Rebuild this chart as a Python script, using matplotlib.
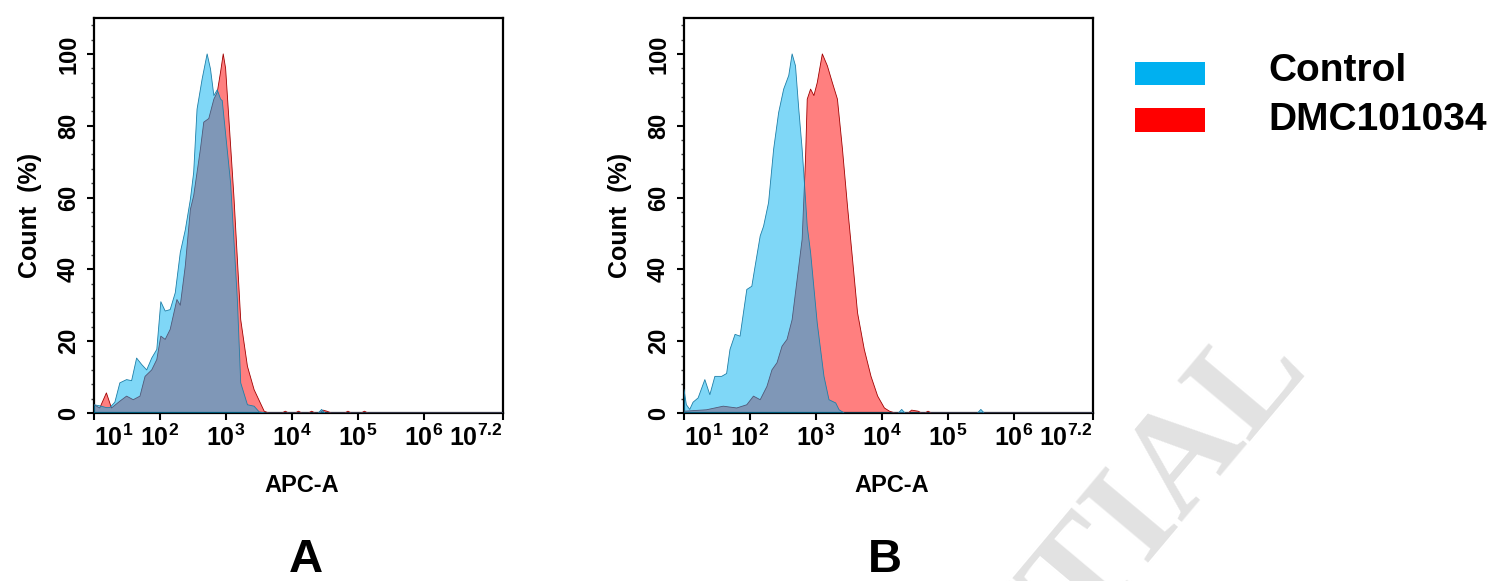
import numpy as np
import matplotlib
matplotlib.use("Agg")
import matplotlib.pyplot as plt
from matplotlib.ticker import MultipleLocator, LogLocator, NullFormatter
from matplotlib.patches import Rectangle

plt.rcParams['font.family'] = ['Liberation Sans', 'DejaVu Sans']
plt.rcParams['font.weight'] = 'bold'
plt.rcParams['mathtext.fontset'] = 'custom'
plt.rcParams['mathtext.rm'] = 'Liberation Sans:bold'
plt.rcParams['mathtext.bf'] = 'Liberation Sans:bold'

# ---------------- data (x = log10 of APC-A intensity, y = count %) ----------------
series_names = ["Control", "DMC101034"]
panel_labels = ["A", "B"]
xtick_exponents = [1, 2, 3, 4, 5, 6, 7.2]
xtick_labels = [r"$\mathbf{10^{1}}$", r"$\mathbf{10^{2}}$", r"$\mathbf{10^{3}}$",
                r"$\mathbf{10^{4}}$", r"$\mathbf{10^{5}}$", r"$\mathbf{10^{6}}$",
                r"$\mathbf{10^{7.2}}$"]
ytick_values = [0, 20, 40, 60, 80, 100]

a_ctrl_log = [1.00, 1.087, 1.188, 1.239, 1.316, 1.392, 1.494, 1.570, 1.646, 1.723, 1.799,
              1.875, 1.952, 2.013, 2.079, 2.155, 2.232, 2.308, 2.384, 2.461, 2.511, 2.562,
              2.639, 2.715, 2.766, 2.817, 2.868, 2.919, 2.944, 3.071, 3.173, 3.224, 3.326,
              3.427, 3.504, 3.60, 4.40, 4.45, 4.50, 7.2]
a_ctrl_cnt = [2.3, 2.0, 1.5, 1.5, 3.0, 8.4, 9.3, 9.0, 15.3, 13.5, 12.0,
              15.3, 17.7, 31.0, 28.4, 28.8, 33.5, 44.7, 51.0, 59.5, 67.0, 84.6,
              93.0, 100.0, 95.8, 88.4, 90.0, 87.4, 87.0, 64.0, 31.6, 8.4, 2.3,
              1.9, 0.3, 0.0, 0.0, 1.0, 0.0, 0.0]

a_dmc_log = [1.00, 1.087, 1.188, 1.265, 1.392, 1.494, 1.595, 1.697, 1.774, 1.875, 1.952,
             2.013, 2.079, 2.155, 2.257, 2.308, 2.384, 2.461, 2.511, 2.613, 2.664, 2.740,
             2.817, 2.868, 2.919, 2.959, 2.995, 3.122, 3.224, 3.326, 3.427, 3.580, 3.65,
             3.85, 3.90, 3.95, 4.05, 4.10, 4.15, 4.25, 4.30, 4.35, 4.42, 4.47, 4.53, 4.60,
             4.80, 4.85, 4.90, 5.05, 5.10, 5.15, 7.2]
a_dmc_cnt = [2.3, 1.4, 5.6, 1.4, 3.3, 4.7, 3.7, 4.7, 10.2, 12.0, 14.9,
             21.4, 20.5, 23.3, 31.6, 30.0, 41.0, 56.7, 60.5, 73.5, 81.0, 82.0,
             87.4, 89.3, 95.0, 100.0, 96.0, 60.0, 26.0, 13.0, 6.5, 0.5, 0.0,
             0.0, 0.5, 0.0, 0.0, 0.5, 0.0, 0.0, 0.5, 0.0, 0.0, 0.8, 0.5, 0.0,
             0.0, 0.5, 0.0, 0.0, 0.5, 0.0, 0.0]

b_ctrl_log = [1.00, 1.036, 1.087, 1.137, 1.214, 1.316, 1.392, 1.468, 1.570, 1.646, 1.697,
              1.774, 1.850, 1.952, 2.028, 2.079, 2.155, 2.206, 2.282, 2.359, 2.435, 2.511,
              2.588, 2.639, 2.690, 2.740, 2.791, 2.842, 2.868, 2.919, 3.020, 3.122, 3.198,
              3.300, 3.351, 3.43, 4.25, 4.30, 4.35, 5.45, 5.50, 5.55, 7.2]
b_ctrl_cnt = [6.5, 2.3, 1.0, 3.0, 4.2, 9.3, 5.1, 10.2, 10.2, 11.0, 17.7,
              21.9, 21.4, 34.4, 35.3, 41.0, 49.3, 52.0, 58.6, 73.5, 83.7, 90.2,
              94.0, 100.0, 96.7, 84.6, 73.5, 59.5, 52.0, 44.7, 25.0, 10.2, 3.7,
              2.8, 0.9, 0.0, 0.0, 1.0, 0.0, 0.0, 1.0, 0.0, 0.0]

b_dmc_log = [1.00, 1.341, 1.595, 1.799, 1.952, 2.053, 2.155, 2.257, 2.333, 2.410, 2.486,
             2.562, 2.639, 2.715, 2.791, 2.842, 2.868, 2.919, 2.969, 3.020, 3.097, 3.173,
             3.249, 3.326, 3.402, 3.478, 3.555, 3.631, 3.733, 3.835, 3.936, 4.038, 4.115,
             4.20, 4.40, 4.45, 4.55, 4.60, 4.65, 4.70, 4.75, 7.2]
b_dmc_cnt = [0.5, 0.9, 1.9, 1.4, 2.3, 4.7, 3.7, 7.4, 12.0, 14.0, 18.6,
             20.5, 26.0, 37.2, 48.4, 70.7, 87.4, 90.2, 88.4, 92.0, 100.0, 96.7,
             92.0, 87.4, 73.5, 57.7, 42.8, 27.9, 17.7, 10.2, 4.7, 1.4, 0.5,
             0.0, 0.0, 0.8, 0.5, 0.0, 0.0, 0.5, 0.0, 0.0]

panels = [(a_ctrl_log, a_ctrl_cnt, a_dmc_log, a_dmc_cnt),
          (b_ctrl_log, b_ctrl_cnt, b_dmc_log, b_dmc_cnt)]

# ---------------- styles ----------------
ctrl_color = "#00B0F0"
dmc_color = "#FF0000"
ctrl_edge = "#1E7FA8"
dmc_edge = "#A00000"

W, H = 1493, 581
fig = plt.figure(figsize=(W / 100, H / 100), dpi=100)

# watermark
fig.text(1308 / W, 1 - 364 / H, "CONFIDENTIAL", rotation=50, rotation_mode="anchor",
         ha="right", va="baseline", fontsize=104, color="#e2e2e2",
         family=["Liberation Serif", "DejaVu Serif"], fontweight="bold", zorder=0)

ax_lefts = [94 / W, 684 / W]
for i, (cl, cc, dl, dc) in enumerate(panels):
    ax = fig.add_axes([ax_lefts[i], (H - 413) / H, 409 / W, 395 / H])
    ax.patch.set_alpha(0)
    dx = 10 ** np.array(dl)
    cx = 10 ** np.array(cl)
    ax.fill_between(dx, 0, dc, facecolor=dmc_color, alpha=0.5, linewidth=0, zorder=2)
    ax.plot(dx, dc, color=dmc_edge, linewidth=0.6, zorder=3)
    ax.fill_between(cx, 0, cc, facecolor=ctrl_color, alpha=0.5, linewidth=0, zorder=4)
    ax.plot(cx, cc, color=ctrl_edge, linewidth=0.6, zorder=5)

    ax.set_xscale("log")
    ax.set_xlim(10 ** 1, 10 ** 7.2)
    ax.set_ylim(0, 110)
    ax.set_xticks([10 ** e for e in xtick_exponents])
    ax.set_xticklabels(xtick_labels)
    ax.xaxis.set_minor_locator(LogLocator(base=10, subs=np.arange(2, 10)))
    ax.xaxis.set_minor_formatter(NullFormatter())
    ax.set_yticks(ytick_values)
    ax.set_yticklabels([str(v) for v in ytick_values])
    ax.yaxis.set_minor_locator(MultipleLocator(4))

    for s in ax.spines.values():
        s.set_linewidth(1.6)
        s.set_color("black")
    ax.tick_params(axis="both", which="major", direction="out", length=5, width=1.5,
                   color="black")
    ax.tick_params(axis="both", which="minor", direction="out", length=2.5, width=1.0,
                   color="#444444")
    ax.tick_params(axis="x", which="major", labelsize=18, pad=3)
    ax.tick_params(axis="y", which="major", labelsize=17, pad=5, labelrotation=90)
    for lab in ax.get_yticklabels():
        lab.set_va("center")
        lab.set_fontweight("bold")
    xl = ax.get_xticklabels()
    xl[0].set_horizontalalignment("left")
    xl[-1].set_horizontalalignment("right")

    ax.set_ylabel("Count  (%)", fontsize=18, fontweight="bold")
    ax.yaxis.set_label_coords(-0.127, 0.5)
    ax.set_xlabel("APC-A", fontsize=17, fontweight="bold")
    ax.xaxis.set_label_coords(0.509, -0.155)

# panel letters
fig.text(306 / W, 1 - 560 / H, panel_labels[0], fontsize=34, fontweight="bold",
         ha="center", va="center")
fig.text(885 / W, 1 - 560 / H, panel_labels[1], fontsize=34, fontweight="bold",
         ha="center", va="center")

# legend
fig.patches.append(Rectangle((1135 / W, (H - 85) / H), 70 / W, 23 / H,
                             transform=fig.transFigure, facecolor=ctrl_color,
                             edgecolor="none"))
fig.patches.append(Rectangle((1135 / W, (H - 132) / H), 70 / W, 24 / H,
                             transform=fig.transFigure, facecolor=dmc_color,
                             edgecolor="none"))
fig.text(1268 / W, 1 - 71 / H, series_names[0], fontsize=28, fontweight="bold",
         ha="left", va="center")
fig.text(1268 / W, 1 - 120 / H, series_names[1], fontsize=28, fontweight="bold",
         ha="left", va="center")

fig.savefig("out.png", dpi=100)
